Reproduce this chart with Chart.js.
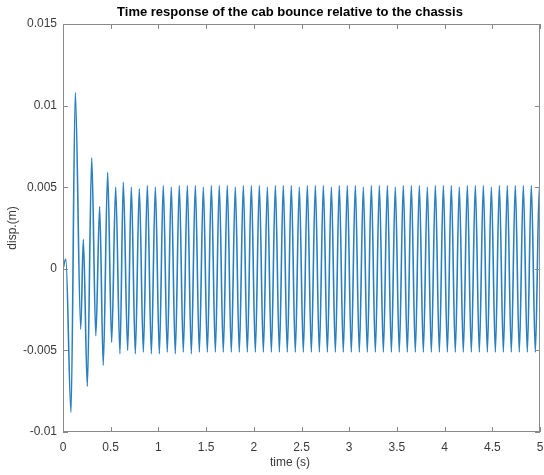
<!DOCTYPE html>
<html>
<head>
<meta charset="utf-8">
<script src="https://cdn.jsdelivr.net/npm/chart.js@4.4.0/dist/chart.umd.min.js"></script>
<style>
  html, body { margin: 0; padding: 0; background: #fff; }
  #wrap { width: 544px; height: 475px; }
</style>
</head>
<body>
<div id="wrap"><canvas id="cabChart" width="544" height="475"></canvas></div>
<script>
var titleText = "Time response of the cab bounce relative to the chassis";
var xLabel = "time (s)";

// time (s) of each turning point of the response
var times = [
    0, 0.030, 0.084, 0.129, 0.186, 0.213, 0.255, 0.301, 0.344, 0.384,
    0.422, 0.468, 0.510, 0.552, 0.597, 0.632, 0.678,
    0.716, 0.758, 0.800, 0.842, 0.884, 0.926, 0.968, 1.010,
    1.051, 1.093, 1.135, 1.177, 1.219, 1.261, 1.303, 1.345,
    1.387, 1.429, 1.471, 1.513, 1.555, 1.597, 1.638, 1.680,
    1.722, 1.764, 1.806, 1.848, 1.890, 1.932, 1.974, 2.016,
    2.058, 2.100, 2.142, 2.184, 2.226, 2.268, 2.309, 2.351,
    2.393, 2.435, 2.477, 2.519, 2.561, 2.603, 2.645, 2.687,
    2.729, 2.771, 2.813, 2.855, 2.896, 2.938, 2.980, 3.022,
    3.064, 3.106, 3.148, 3.190, 3.232, 3.274, 3.316, 3.358,
    3.400, 3.442, 3.483, 3.525, 3.567, 3.609, 3.651, 3.693,
    3.735, 3.777, 3.819, 3.861, 3.903, 3.945, 3.987, 4.029,
    4.070, 4.112, 4.154, 4.196, 4.238, 4.280, 4.322, 4.364,
    4.406, 4.448, 4.490, 4.532, 4.574, 4.616, 4.657, 4.699,
    4.741, 4.783, 4.825, 4.867, 4.909, 4.951, 4.993, 5.000
];

// displacement (m) at those points
var disp = [
    0, 0.0006, -0.0088, 0.0108, -0.0037, 0.0018, -0.0072, 0.0068, -0.0041, 0.0038,
    -0.0059, 0.0059, -0.0045, 0.0050, -0.0052, 0.0053, -0.0050,
    0.0050, -0.0052, 0.0049, -0.0051, 0.0051, -0.0052, 0.0050, -0.0052,
    0.0051, -0.0051, 0.0050, -0.0052, 0.0051, -0.0051, 0.0051, -0.0052,
    0.0051, -0.0051, 0.0050, -0.0051, 0.0051, -0.0051, 0.0051, -0.0051,
    0.0051, -0.0051, 0.0050, -0.0051, 0.0051, -0.0051, 0.0051, -0.0051,
    0.0051, -0.0051, 0.0050, -0.0051, 0.0051, -0.0051, 0.0051, -0.0051,
    0.0051, -0.0051, 0.0050, -0.0051, 0.0051, -0.0051, 0.0051, -0.0051,
    0.0051, -0.0051, 0.0050, -0.0051, 0.0051, -0.0051, 0.0051, -0.0051,
    0.0051, -0.0051, 0.0050, -0.0051, 0.0051, -0.0051, 0.0051, -0.0051,
    0.0051, -0.0051, 0.0050, -0.0051, 0.0051, -0.0051, 0.0051, -0.0051,
    0.0051, -0.0051, 0.0050, -0.0051, 0.0051, -0.0051, 0.0051, -0.0051,
    0.0051, -0.0051, 0.0050, -0.0051, 0.0051, -0.0051, 0.0051, -0.0051,
    0.0051, -0.0051, 0.0050, -0.0051, 0.0051, -0.0051, 0.0051, -0.0051,
    0.0051, -0.0051, 0.0051, -0.0051, 0.0051, -0.0051, 0.0050, 0.0048
];

var xTicks = [0, 0.5, 1, 1.5, 2, 2.5, 3, 3.5, 4, 4.5, 5];
var yTicks = [-0.01, -0.005, 0, 0.005, 0.01, 0.015];

var points = [];
for (var i = 0; i < times.length; i++)
    points.push({ x: times[i], y: disp[i] });

var font = "'Liberation Sans', Arial, sans-serif";
var textColor = "#3a3a3a";

// box round the axes, inward ticks, the bold title and the x label
var framePlugin = {
    id: "frame",
    afterDraw: function (chart) {
        var ctx = chart.ctx;
        var a = chart.chartArea;
        var xs = chart.scales.x, ys = chart.scales.y;
        ctx.save();
        ctx.strokeStyle = "#8a8a8a";
        ctx.lineWidth = 1;
        ctx.strokeRect(a.left + 0.5, a.top + 0.5, a.right - a.left - 1, a.bottom - a.top - 1);
        ctx.beginPath();
        xTicks.forEach(function (v) {
            var px = Math.round(xs.getPixelForValue(v)) + 0.5;
            ctx.moveTo(px, a.bottom); ctx.lineTo(px, a.bottom - 5);
            ctx.moveTo(px, a.top); ctx.lineTo(px, a.top + 5);
        });
        yTicks.forEach(function (v) {
            var py = Math.round(ys.getPixelForValue(v)) + 0.5;
            ctx.moveTo(a.left, py); ctx.lineTo(a.left + 5, py);
            ctx.moveTo(a.right, py); ctx.lineTo(a.right - 5, py);
        });
        ctx.stroke();
        ctx.textAlign = "center";
        ctx.textBaseline = "middle";
        ctx.fillStyle = "#000";
        ctx.font = "bold 13px " + font;
        ctx.fillText(titleText, 290, 12);
        ctx.fillStyle = textColor;
        ctx.font = "12px " + font;
        ctx.fillText(xLabel, 290, 463);
        ctx.restore();
    }
};

var chart = new Chart("cabChart", {
    type: "line",
    data: {
        datasets: [{
            data: points,
            borderColor: "#2a7fc0",
            borderWidth: 1.6,
            pointRadius: 0,
            cubicInterpolationMode: "monotone",
            fill: false
        }]
    },
    options: {
        responsive: false,
        animation: false,
        layout: { padding: { top: 24, right: 4, left: 0, bottom: 0 } },
        plugins: {
            legend: { display: false },
            title: { display: false },
            tooltip: { enabled: false }
        },
        scales: {
            x: {
                type: "linear",
                min: 0,
                max: 5,
                grid: { display: false, drawTicks: false },
                border: { display: false },
                afterBuildTicks: function (s) { s.ticks = xTicks.map(function (v) { return { value: v }; }); },
                afterFit: function (s) { s.height = 43; s.paddingLeft = 0; s.paddingRight = 0; },
                ticks: {
                    padding: 8,
                    maxRotation: 0,
                    color: textColor,
                    font: { family: font, size: 12 },
                    callback: function (v) { return String(v); }
                }
            },
            y: {
                type: "linear",
                min: -0.01,
                max: 0.015,
                grid: { display: false, drawTicks: false },
                border: { display: false },
                afterBuildTicks: function (s) { s.ticks = yTicks.map(function (v) { return { value: v }; }); },
                afterFit: function (s) { s.width = 63; s.paddingTop = 0; s.paddingBottom = 0; },
                ticks: {
                    padding: 6,
                    color: textColor,
                    font: { family: font, size: 12 },
                    callback: function (v) { return String(v); }
                },
                title: {
                    display: true,
                    text: "disp.(m)",
                    color: textColor,
                    font: { family: font, size: 12 },
                    padding: { top: 5, bottom: 2 }
                }
            }
        }
    },
    plugins: [framePlugin]
});
</script>
</body>
</html>
